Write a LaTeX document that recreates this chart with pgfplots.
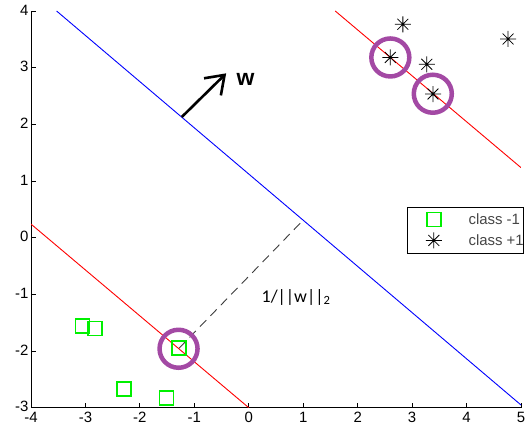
\documentclass[border=0pt]{standalone}
\usepackage{pgfplots}
\pgfplotsset{compat=1.18}
\usepackage{fontspec}
\setmainfont{Liberation Sans}
\newfontfamily\carlito{Carlito}
\usetikzlibrary{arrows.meta}
\definecolor{svmpurple}{RGB}{163,73,164}
\definecolor{svmgreen}{RGB}{0,240,0}
\definecolor{leggray}{RGB}{70,70,70}
\definecolor{dashgray}{RGB}{60,60,60}

\pgfdeclareplotmark{mstar}{%
  \pgfpathmoveto{\pgfqpoint{-\pgfplotmarksize}{0pt}}%
  \pgfpathlineto{\pgfqpoint{\pgfplotmarksize}{0pt}}%
  \pgfpathmoveto{\pgfqpoint{0pt}{-\pgfplotmarksize}}%
  \pgfpathlineto{\pgfqpoint{0pt}{\pgfplotmarksize}}%
  \pgfpathmoveto{\pgfqpoint{-0.68\pgfplotmarksize}{-0.68\pgfplotmarksize}}%
  \pgfpathlineto{\pgfqpoint{0.68\pgfplotmarksize}{0.68\pgfplotmarksize}}%
  \pgfpathmoveto{\pgfqpoint{-0.68\pgfplotmarksize}{0.68\pgfplotmarksize}}%
  \pgfpathlineto{\pgfqpoint{0.68\pgfplotmarksize}{-0.68\pgfplotmarksize}}%
  \pgfusepathqstroke}

\pgfplotsset{legimg/.style={legend image code/.code={\path (0bp,-7bp) (52bp,7bp);\draw[##1,mark repeat=1] plot coordinates {(26bp,0bp)};}}}

\begin{document}
\begin{tikzpicture}
\useasboundingbox (-31bp,-22.3bp) rectangle (494bp,407.7bp);
\begin{axis}[
  scale only axis, width=490bp, height=396.7bp,
  xmin=-4, xmax=5, ymin=-3, ymax=4,
  axis lines=left, axis line style={-, line width=0.9bp},
  xtick={-4,...,5}, ytick={-3,...,4},
  tick align=inside, major tick length=5bp,
  tick style={black, line width=0.8bp},
  tick label style={font=\fontsize{15}{17}\selectfont},
  yticklabel style={xshift=1bp, yshift=1bp},
  xticklabel style={yshift=-1bp},
  /pgf/number format/assume math mode=true,
  legend style={at={(axis cs:2.9,0.55)}, anchor=north west, draw=black, line width=0.8bp,
    font=\fontsize{15}{17}\selectfont, text=leggray, inner xsep=0pt, inner ysep=5bp,
    nodes={inner sep=0pt, font=\fontsize{15}{17}\selectfont}, column sep=8bp, row sep=5bp},
  legend cell align=left,
]
\addplot[blue, line width=0.9bp, forget plot] coordinates {(-3.53,4) (5,-2.952)};
\addplot[red, line width=0.9bp, forget plot] coordinates {(1.588,4) (5,1.236)};
\addplot[red, line width=0.9bp, forget plot] coordinates {(-4,0.24) (0,-3)};
\addplot[dashgray, dash pattern=on 9bp off 6bp, line width=0.9bp, forget plot] coordinates {(-1.28,-1.95) (1.0,0.31)};
\addplot[black, line width=2.6bp, -{Straight Barb[length=17bp,width=24bp]}, forget plot] coordinates {(-1.23,2.13) (-0.415,2.90)};
\addplot[only marks, mark=square, mark size=7bp, color=svmgreen, line width=1.5bp, legimg] coordinates {
  (-3.057,-1.558) (-2.824,-1.60) (-2.296,-2.67) (-1.51,-2.83) (-1.28,-1.95)};
\addlegendentry{class -1}
\addplot[only marks, mark=mstar, mark size=8bp, black, line width=0.8bp, legimg] coordinates {
  (2.60,3.18) (2.83,3.766) (3.27,3.06) (3.384,2.535) (4.763,3.506)};
\addlegendentry{class +1}
\addplot[only marks, mark=o, mark size=19bp, svmpurple, line width=4.5bp, forget plot] coordinates {
  (-1.29,-1.96) (2.60,3.18) (3.38,2.54)};
\node[anchor=base west, font=\bfseries\fontsize{23}{26}\selectfont] at (axis cs:-0.287,2.694) {w};
\node[anchor=base west, font=\carlito\fontsize{18}{20}\selectfont] at (axis cs:0.173,-1.135) {1/||w||\textsubscript{2}};
\end{axis}
\end{tikzpicture}
\end{document}
